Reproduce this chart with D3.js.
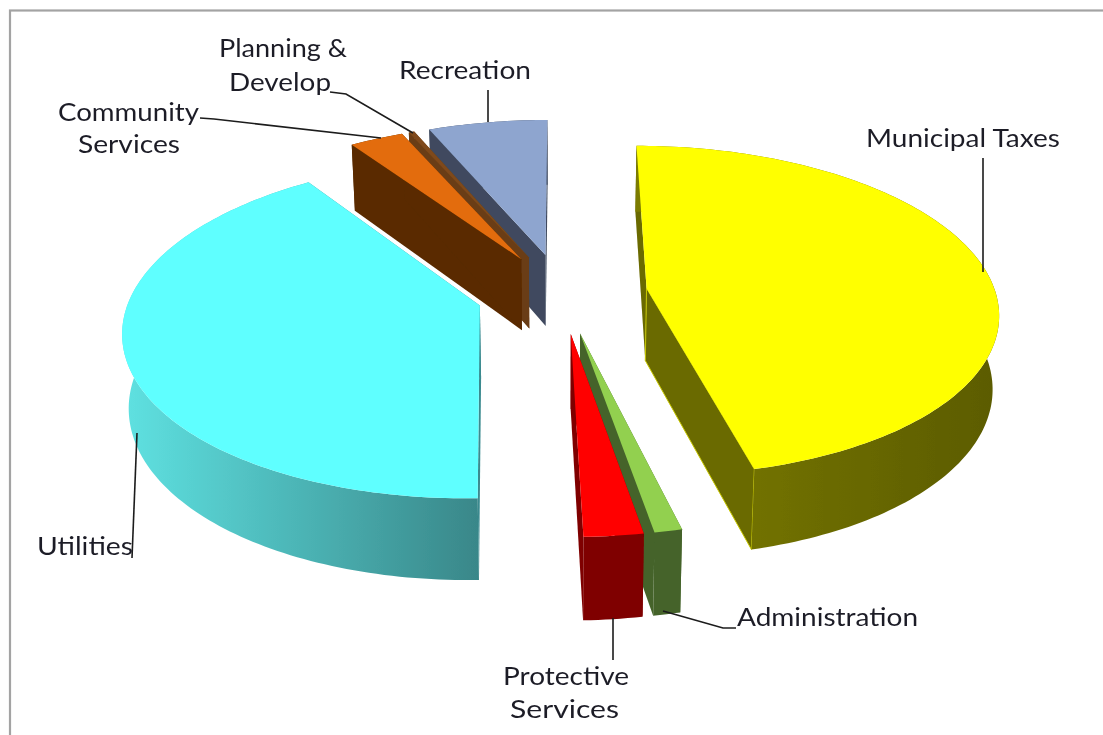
<!DOCTYPE html>
<html><head><meta charset="utf-8">
<style>html,body{margin:0;padding:0;background:#fff}svg{display:block}</style>
<script src="https://cdn.jsdelivr.net/npm/d3@7/dist/d3.min.js"></script></head>
<body><svg id="c" width="1103" height="735"></svg>
<script>
const categories=["Municipal Taxes","Administration","Protective Services","Utilities","Community Services","Planning & Develop","Recreation"];
const shares=[46.19,1.08,2.31,40.83,2.9,0.3,6.4];
const topColors=["#ffff00","#92d050","#ff0000","#5fffff","#e36c09","#7f4a1a","#8ea5cf"];
const sideColors=["#6b6b00","#44632a","#7f0000","#3a8a8f","#5a2a00","#6b3d14","#3f4a5f"];
const rimStart=["#7c7c00","#44632a","#7f0000","#5ee0e0","#5a2a00","#6b3d14","#3f4a5f"];
const rimEnd=["#5c5c00","#44632a","#7f0000","#398789","#5a2a00","#6b3d14","#3f4a5f"];
const paintOrder=[6,5,4,3,0,1,2];

const svg=d3.select("#c");
const W=1103,H=735;
// projection
const vx=562,y0=293,R=349,T=163,p=0.1357,E=0.245,kx=0.985;
const xS=d3.scaleLinear().domain([0,1]).range([0,R]);
const yS=d3.scaleLinear().domain([0,1]).range([0,T]);
function proj(th,r,low,m){
  const X=E*Math.sin(m)+r*Math.sin(th),Y=-E*Math.cos(m)-r*Math.cos(th);
  const s=1/(1-p*Y);
  const px=xS(X)*s,py=yS(Y)*s;
  return low?[vx+px*kx,y0+py+72.5+0.045*py]:[vx+px,y0+py];
}
const pie=d3.pie().sort(null).value(d=>d);
const arcs=pie(shares);
const line=d3.line();
const defs=svg.append("defs");
const blur=defs.append("filter").attr("id","soft").attr("x",0).attr("y",0).attr("width",1).attr("height",1);
blur.append("feGaussianBlur").attr("stdDeviation",0.55);
const root=svg.append("g").attr("filter","url(#soft)");
root.append("rect").attr("width",W).attr("height",H).attr("fill","#fff");
root.append("rect").attr("x",10).attr("y",10.5).attr("width",W+20).attr("height",H+20).attr("fill","none").attr("stroke","#a3a3a3").attr("stroke-width",2.2);

const samples=(a,b)=>d3.range(0,Math.max(2,Math.ceil((b-a)/0.02))+1).map((i,_,arr)=>a+(b-a)*i/(arr.length-1));
paintOrder.forEach(i=>{
  const a=arcs[i],m=(a.startAngle+a.endAngle)/2,g=root.append("g");
  const ts=samples(a.startAngle,a.endAngle);
  const topArc=ts.map(t=>proj(t,1,false,m)),lowArc=ts.map(t=>proj(t,1,true,m));
  const apex=proj(0,0,false,m),apexL=proj(0,0,true,m);
  const xs=lowArc.map(d=>d[0]);
  const gid="rim"+i;
  const lg=defs.append("linearGradient").attr("id",gid).attr("gradientUnits","userSpaceOnUse")
    .attr("x1",d3.min(xs)).attr("x2",d3.max(xs)).attr("y1",0).attr("y2",0);
  lg.append("stop").attr("offset",0).attr("stop-color",rimStart[i]);
  lg.append("stop").attr("offset",1).attr("stop-color",rimEnd[i]);
  const last=topArc.length-1;
  [[topArc[0],lowArc[0],"none"],[topArc[last],lowArc[last],i===0?"#c8c800":"none"]].forEach(e=>{
    g.append("path").attr("d",line([apex,e[0],e[1],apexL])+"Z").attr("fill",sideColors[i]).attr("stroke",e[2]).attr("stroke-width",1);
  });
  g.append("path").attr("d",line(topArc.concat(lowArc.slice().reverse()))+"Z").attr("fill",`url(#${gid})`);
  g.append("path").attr("d",line([apex].concat(topArc))+"Z").attr("fill",topColors[i]);
});

const leaderPaths=[
 [[983,158],[983,272]],
 [[488,90],[488,122]],
 [[330,92],[346,94],[413,133]],
 [[200,118],[214,119],[381,138]],
 [[132,558],[137,433]],
 [[613,660],[613,618]],
 [[736,628],[723,628],[663,611]]
];
leaderPaths.forEach(d=>root.append("path").attr("d",line(d)).attr("fill","none").attr("stroke","#1c1c1c").attr("stroke-width",1.6));

const labelLines=[
 ["Municipal Taxes",866,147,194],
 ["Recreation",399,79,132],
 ["Planning &",219,57,128],
 ["Develop",229,91,102],
 ["Community",58,121,141],
 ["Services",78,153,102],
 ["Utilities",37,555,96],
 ["Protective",503,685,126],
 ["Services",510,718,109],
 ["Administration",737,626,181]
];
root.selectAll("text.lab").data(labelLines).join("text").attr("class","lab")
 .attr("x",d=>d[1]).attr("y",d=>d[2]).attr("textLength",d=>d[3]).attr("lengthAdjust","spacingAndGlyphs")
 .attr("font-family","Lato, 'Open Sans', sans-serif").attr("font-size",25).attr("fill","#1e1e28").text(d=>d[0]);
</script></body></html>
